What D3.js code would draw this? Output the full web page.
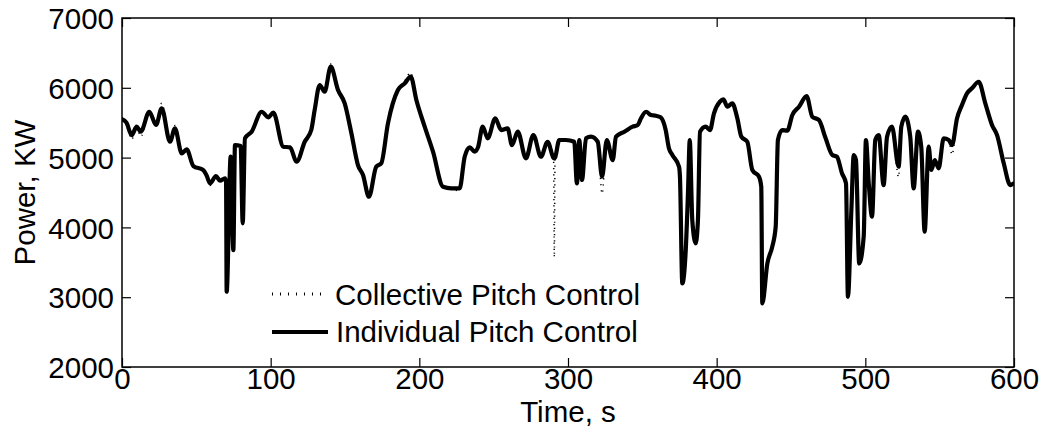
<!DOCTYPE html>
<html>
<head>
<meta charset="utf-8">
<script src="https://cdn.jsdelivr.net/npm/d3@7"></script>
<style>
  html, body { margin: 0; padding: 0; background: #fff; }
  svg { display: block; }
  text { font-family: "Liberation Sans", Arial, sans-serif; fill: #000; }
</style>
</head>
<body>
<svg id="chart" width="1043" height="436"></svg>
<script>
// ---- data ----
const timeS = [0,3,6.5,9.9,12.6,18.4,22.9,26.7,32.3,35.6,40.2,43.5,48,54.7,57,59.2,63.2,65.9,69.3,70,70.4,73.1,74.9,76,79.8,81.2,82.7,87.2,94,98.4,101.8,108.5,113,117.5,122.9,127.3,129.6,133,136.3,140.4,145.3,149.8,154.3,158.7,162.1,166.1,171,174.4,178.9,185.6,190.2,194.2,198,203.6,209.2,215.9,221.5,227.1,230.5,233.9,237.2,239.5,242.6,246,251.1,255,259.4,262.3,266.2,271.7,276.7,281.8,286.3,290.3,290.8,291.3,294.1,298.6,304.2,306,307.6,309.4,312.1,315.5,320,322.9,326.1,330.1,332.3,337.9,343.5,346.9,349.1,352.5,355.8,359,362.3,365.7,367.9,370.2,374.7,375.3,376.9,379.2,380.7,381.9,383.6,385.9,387.4,388.8,392.6,395.5,398.2,402.2,404.5,407.2,410.5,413.9,416.6,420.6,424,428.5,430,430.7,434.1,437.4,439.7,441.2,444.1,447.5,450.9,455.4,460.5,464.3,468.8,473.3,477.8,480.9,484.3,487,488.3,490.6,492.2,493.7,495.9,498.9,500.4,502.3,504.5,506.7,509,512.3,514.6,517.9,522.4,524.2,526.9,530.2,532.5,535.4,537.6,539.9,542.6,544.4,546.7,549.3,552.7,556.1,558.3,561.7,565,568.4,571.7,576.2,580.7,585.2,588.6,593.1,597.5,600];

const powerIndividual = [5550,5500,5323,5443,5371,5657,5467,5706,5227,5419,5061,5118,4879,4822,4740,4631,4736,4669,4703,4650,3078,5013,3675,5180,5166,4058,5276,5371,5657,5577,5643,5156,5147,4941,5227,5395,5682,6040,5944,6302,5968,5777,5348,4893,4750,4439,4869,4918,5491,5968,6064,6159,5825,5443,5084,4582,4559,4559,5013,5147,5084,5150,5443,5276,5563,5395,5419,5180,5371,4989,5323,5013,5227,4995,4989,5000,5252,5252,5227,4631,5252,4679,5276,5300,5227,4726,5252,4965,5300,5371,5443,5467,5563,5657,5610,5600,5577,5395,5133,5037,4869,4726,3198,3675,4488,5252,4105,3771,4105,5371,5443,5395,5634,5801,5835,5729,5777,5563,5300,5227,4822,4726,4582,2912,3485,3724,4009,5252,5395,5385,5610,5729,5882,5586,5538,5276,5037,5013,4775,4631,3006,4248,5037,4965,3485,3867,5252,4631,4153,5252,5323,4607,5300,5443,4869,5443,5586,5300,4559,5371,5156,3938,5156,4822,4965,4846,5276,5252,5180,5563,5753,5921,5992,6087,5777,5467,5323,4918,4607,4631];

const powerCollective = [5560,5480,5260,5440,5300,5660,5470,5780,5240,5460,5070,5110,4870,4830,4720,4600,4740,4660,4700,4650,3100,4990,3650,5180,5160,4060,5280,5371,5660,5577,5643,5150,5147,4941,5220,5380,5682,6040,5944,6340,5968,5777,5348,4893,4750,4420,4850,4918,5491,5968,6100,6220,5825,5443,5084,4582,4559,4520,5013,5147,5084,5150,5443,5276,5563,5395,5419,5180,5371,4989,5323,5013,5227,4995,3570,5000,5252,5252,5227,4631,5252,4679,5276,5300,5227,4480,5252,4965,5300,5371,5443,5467,5563,5657,5610,5600,5577,5395,5133,5037,4869,4726,3198,3675,4488,5252,4105,3771,4105,5371,5443,5395,5634,5801,5835,5729,5777,5563,5300,5227,4822,4726,4582,2912,3485,3724,4009,5252,5395,5385,5610,5729,5882,5586,5538,5276,5037,5013,4775,4631,3006,4248,5037,4965,3485,3867,5252,4631,4153,5252,5323,4607,5300,5443,4720,5443,5586,5300,4559,5371,5156,3938,5156,4822,4965,4846,5276,5252,5040,5563,5753,5921,5992,6087,5777,5467,5323,4918,4607,4540];

const xTicks = [0,100,200,300,400,500,600];
const yTicks = [2000,3000,4000,5000,6000,7000];
const seriesNames = ["Collective Pitch Control","Individual Pitch Control"];
const xLabel = "Time, s";
const yLabel = "Power, KW";

// ---- layout ----
const L = 122, R = 1014, T = 18, B = 367;
const svg = d3.select("#chart");
svg.append("rect").attr("width",1043).attr("height",436).attr("fill","#fff");

const x = d3.scaleLinear().domain([0,600]).range([L,R]);
const y = d3.scaleLinear().domain([2000,7000]).range([B,T]);

svg.append("defs").append("clipPath").attr("id","clip")
  .append("rect").attr("x",L).attr("y",T).attr("width",R-L).attr("height",B-T);

const fs = 29.5;
const tickLen = 9;
const fmt = d3.format("d");

// axes via d3 (inward ticks)
const axB = svg.append("g").attr("transform",`translate(0,${B})`)
  .call(d3.axisBottom(x).tickValues(xTicks).tickFormat(fmt).tickSizeInner(-tickLen).tickSizeOuter(0));
const axT = svg.append("g").attr("transform",`translate(0,${T})`)
  .call(d3.axisTop(x).tickValues(xTicks).tickSizeInner(-tickLen).tickSizeOuter(0).tickFormat(""));
const axL = svg.append("g").attr("transform",`translate(${L},0)`)
  .call(d3.axisLeft(y).tickValues(yTicks).tickFormat(fmt).tickSizeInner(-tickLen).tickSizeOuter(0).tickPadding(8));
const axR = svg.append("g").attr("transform",`translate(${R},0)`)
  .call(d3.axisRight(y).tickValues(yTicks).tickSizeInner(-tickLen).tickSizeOuter(0).tickFormat(""));

[axB,axT,axL,axR].forEach(g => {
  g.select(".domain").remove();
  g.selectAll("line").attr("stroke","#000").attr("stroke-width",1.2);
});
axB.selectAll("text").attr("font-size",fs).attr("font-family","Liberation Sans, Arial, sans-serif")
  .attr("fill","#000").attr("dy",null).attr("y",22);
axL.selectAll("text").attr("font-size",fs).attr("font-family","Liberation Sans, Arial, sans-serif")
  .attr("fill","#000").attr("dy","0.36em");

// box
svg.append("rect").attr("x",L).attr("y",T).attr("width",R-L).attr("height",B-T)
  .attr("fill","none").attr("stroke","#000").attr("stroke-width",1.5);

// lines
const dataC = timeS.map((t,i)=>[t,powerCollective[i]]);
const dataI = timeS.map((t,i)=>[t,powerIndividual[i]]);
const line = d3.line().x(d=>x(d[0])).y(d=>y(d[1])).curve(d3.curveMonotoneX);

const plot = svg.append("g").attr("clip-path","url(#clip)");
plot.append("path").datum(dataC).attr("d",line)
  .attr("fill","none").attr("stroke","#000").attr("stroke-width",1.5)
  .attr("stroke-dasharray","1.2,5");
plot.append("path").datum(dataI).attr("d",line)
  .attr("fill","none").attr("stroke","#000").attr("stroke-width",4.2)
  .attr("stroke-linejoin","round").attr("stroke-linecap","round");

// legend
const leg = svg.append("g");
leg.append("line").attr("x1",272).attr("x2",328).attr("y1",294).attr("y2",294)
  .attr("stroke","#000").attr("stroke-width",3).attr("stroke-dasharray","1,7");
leg.append("text").attr("x",335).attr("y",305).attr("font-size",fs).text(seriesNames[0]);
leg.append("line").attr("x1",272).attr("x2",328).attr("y1",332).attr("y2",332)
  .attr("stroke","#000").attr("stroke-width",4);
leg.append("text").attr("x",336).attr("y",342).attr("font-size",fs).text(seriesNames[1]);

// axis labels
svg.append("text").attr("x",(L+R)/2).attr("y",422).attr("text-anchor","middle")
  .attr("font-size",fs).text(xLabel);
svg.append("text").attr("transform",`translate(35,${(T+B)/2}) rotate(-90)`)
  .attr("text-anchor","middle").attr("font-size",fs).text(yLabel);
</script>
</body>
</html>
